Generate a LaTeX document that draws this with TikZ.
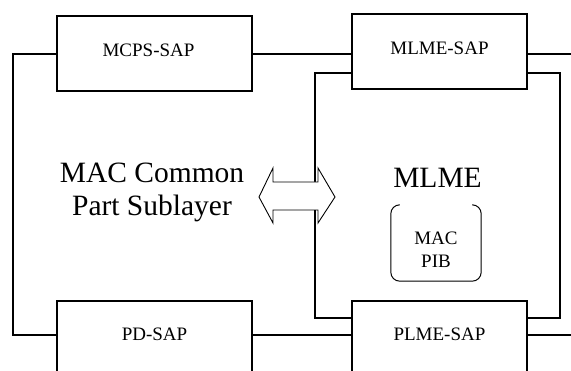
\documentclass[tikz,border=0pt]{standalone}
\usepackage{fontspec}
\setmainfont{Liberation Serif}
\begin{document}
\begin{tikzpicture}[x=1pt,y=-1pt,
  sap/.style={draw, line width=1.3pt, inner sep=0pt, font=\fontsize{19}{22}\selectfont, text height=13pt, text depth=7pt},
  sapbottom/.style={sap, text height=40pt, text depth=60pt, anchor=base},
  wire/.style={line width=1.3pt},
  big/.style={font=\fontsize{29.5}{33}\selectfont, inner sep=0pt, align=center},
  small/.style={font=\fontsize{19}{23}\selectfont, inner sep=0pt, align=center}]
\useasboundingbox (0,0) rectangle (571,371);
\clip (0,0) rectangle (571,371);
% SAP boxes
\node[sap, minimum width=195pt, minimum height=75pt] (mcps) at (154.5,53.5) {MCPS-SAP\hspace*{12pt}};
\node[sap, minimum width=175pt, minimum height=75pt] (mlme) at (439.5,51.5) {MLME-SAP};
\node[sapbottom, minimum width=195pt] (pd) at (154.5,341) {PD-SAP};
\node[sapbottom, minimum width=175pt] (plme) at (439.5,341) {PLME-SAP};
% routing points
\coordinate (L1) at (13,54);
\coordinate (L2) at (13,335);
\coordinate (R1) at (575,54);
\coordinate (R2) at (575,335);
\coordinate (I1) at (315,73);
\coordinate (I2) at (315,318);
\coordinate (I3) at (560,73);
\coordinate (I4) at (560,318);
% connectors
\draw[wire] (mcps.west |- L1) -- (L1) -- (L2) -- (pd.west |- L2);
\draw[wire] (mcps.east |- L1) -- (mlme.west |- L1);
\draw[wire] (mlme.east |- L1) -- (R1);
\draw[wire] (pd.east |- L2) -- (plme.west |- L2);
\draw[wire] (plme.east |- L2) -- (R2);
\draw[wire] (mlme.west |- I1) -- (I1) -- (I2) -- (plme.west |- I2);
\draw[wire] (mlme.east |- I1) -- (I3) -- (I4) -- (plme.east |- I4);
% labels
\node[big, anchor=north] (mac) at (152,163) {MAC Common\\Part Sublayer};
\node[big, anchor=base] (mlmet) at (437.5,188) {MLME};
% MAC PIB
\node[minimum width=90pt, minimum height=76pt, inner sep=0pt] (pib) at (436,243) {};
\node[small] (pibt) at (436,250) {MAC\\PIB};
\draw[line width=1pt, rounded corners=9pt] ([xshift=9pt]pib.north west) -- (pib.north west) -- (pib.south west) -- (pib.south east) -- (pib.north east) -- ([xshift=-9pt]pib.north east);
% double arrow
\draw[line width=0.9pt, fill=white, line join=miter] (259,197) -- (273,168) -- (273,182) -- (318,182) -- (318,168) -- (335,197) -- (318,223) -- (318,210) -- (273,210) -- (273,223) -- cycle;
\end{tikzpicture}
\end{document}
